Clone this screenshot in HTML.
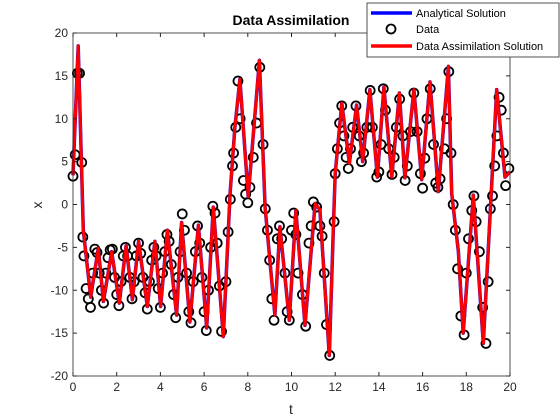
<!DOCTYPE html>
<html><head><meta charset="utf-8"><style>
body{margin:0;background:#fff}
svg{display:block;font-family:"Liberation Sans",Arial,sans-serif}
</style></head><body>
<svg id="chart" width="560" height="420" viewBox="0 0 560 420" xmlns="http://www.w3.org/2000/svg">
<rect x="73" y="33" width="437" height="343" fill="#fff"/>
<g id="marks"></g>
<rect x="73" y="33" width="437" height="343" fill="none" stroke="#262626" stroke-width="0.8"/>
<g id="ticks"></g>
<text x="291" y="25" font-size="14" font-weight="bold" text-anchor="middle" fill="#000">Data Assimilation</text>
<text x="291" y="414" font-size="14" text-anchor="middle" fill="#262626">t</text>
<text x="42" y="205" font-size="14" text-anchor="middle" fill="#262626" transform="rotate(-90 42 205)">x</text>
<g>
<rect x="367" y="3" width="192" height="54" fill="#fff" stroke="#262626" stroke-width="0.8"/>
<g><line x1="371" y1="13" x2="412" y2="13" stroke="#0000ff" stroke-width="3.5"/><text x="416" y="17" font-size="11" fill="#000">Analytical Solution</text></g>
<g><circle cx="391" cy="29" r="4.5" fill="none" stroke="#000" stroke-width="1.8"/><text x="416" y="33" font-size="11" fill="#000">Data</text></g>
<g><line x1="371" y1="46" x2="412" y2="46" stroke="#ff0000" stroke-width="3.5"/><text x="416" y="50" font-size="11" fill="#000">Data Assimilation Solution</text></g>
</g>
</svg>
<script>
const lineT=[0,0.24,0.47,0.81,1.16,1.39,1.77,2.12,2.43,2.72,3.0,3.4,3.75,4.01,4.32,4.74,4.97,5.35,5.74,6.12,6.42,6.88,7.19,7.41,7.64,8.02,8.53,8.79,9.02,9.24,9.47,9.9,10.2,10.62,11.08,11.3,11.73,11.92,12.0,12.3,12.65,12.98,13.26,13.59,13.93,14.23,14.59,14.94,15.19,15.6,15.96,16.34,16.72,17.18,17.33,17.64,17.86,18.32,18.78,19.39,19.77,20];
const lineX=[3.4,18.5,-3,-10.8,-5.1,-11.3,-5.5,-11.5,-4.8,-11.1,-4.3,-11.9,-4.3,-11.9,-3,-12.9,-2.1,-13.7,-2.4,-14.4,-0.3,-15.4,1.3,9,14.6,0.9,16.8,-0.3,-6.8,-12.9,-2.6,-13.5,-0.7,-14.1,0.1,-0.6,-17.6,-2.2,3.6,11.8,4.8,11.6,5,13.4,3.2,13.7,3.2,13,3.1,13.4,2.9,14.3,1.5,16.1,1.3,-5.5,-15,1.1,-16.2,13.4,3.2,3.8];
const dataT=[0,0.1,0.2,0.3,0.4,0.45,0.5,0.6,0.7,0.8,0.9,1.0,1.1,1.2,1.3,1.4,1.5,1.6,1.7,1.8,1.9,2.0,2.1,2.2,2.3,2.4,2.5,2.6,2.7,2.8,2.9,3.0,3.1,3.2,3.3,3.4,3.5,3.6,3.7,3.8,3.9,4.0,4.1,4.2,4.3,4.4,4.5,4.6,4.7,4.8,4.9,5.0,5.1,5.2,5.3,5.4,5.5,5.6,5.7,5.8,5.9,6.0,6.1,6.2,6.3,6.4,6.5,6.6,6.7,6.8,7.0,7.1,7.2,7.3,7.35,7.45,7.55,7.65,7.8,7.9,8.0,8.1,8.25,8.4,8.55,8.7,8.8,8.9,9.0,9.1,9.2,9.35,9.45,9.55,9.7,9.8,9.9,10.0,10.1,10.2,10.3,10.5,10.65,10.8,10.9,11.0,11.15,11.3,11.4,11.5,11.6,11.75,11.95,12.0,12.1,12.2,12.3,12.4,12.5,12.6,12.7,12.8,12.95,13.1,13.2,13.3,13.45,13.6,13.7,13.9,14.0,14.1,14.2,14.3,14.45,14.6,14.7,14.8,14.95,15.1,15.2,15.3,15.45,15.6,15.75,15.9,16.0,16.1,16.2,16.35,16.5,16.6,16.7,16.8,17.0,17.1,17.2,17.3,17.4,17.5,17.6,17.75,17.9,18.0,18.1,18.25,18.35,18.45,18.6,18.75,18.9,19.0,19.1,19.2,19.3,19.4,19.5,19.6,19.7,19.8,19.95];
const dataX=[3.3,5.8,15.3,15.3,4.9,-3.8,-6,-9.8,-11,-12,-8,-5.2,-5.6,-8,-10,-11.5,-8,-6.2,-5.3,-5.2,-8.5,-10.5,-11.8,-9,-6,-5,-6,-8.5,-11,-9,-6,-4.5,-5.7,-8.5,-10.3,-12.2,-9,-6.5,-5,-6,-9.8,-12,-8,-5.5,-3.5,-4.3,-7,-10.5,-13.2,-8.5,-5.5,-1.1,-3,-8,-12.5,-13.8,-9,-5.5,-2.5,-4.5,-8.5,-12.5,-14.7,-10,-5,-0.2,-1,-4.5,-9.5,-14.8,-9,-3.2,0.6,4.5,6,9,14.4,10,2.8,1.2,0.2,2,5.5,9.5,16,7,-0.5,-3,-6.5,-11,-13.5,-4,-2.5,-4,-8,-12.5,-13.5,-3,-1,-3.5,-8,-10.5,-14.2,-4.5,-2.5,0.3,-0.3,-2.5,-3.7,-8,-14,-17.6,-2,3.6,6.5,9.5,11.5,8,5.5,4.2,6.5,9,11.5,8,5,6,9,13.3,9,3.2,3.8,7,13.5,11,6.5,3.5,5.5,9,12.3,8,2.8,4.5,8.5,13,8.5,3.6,1.9,5.4,10,13.5,7,2.5,2,3,6.5,10,15.5,6,0,-3,-7.5,-13,-15.2,-8,-4,-0.7,1,-2,-5.5,-12,-16.2,-9,-0.5,1,4.5,8,12.5,11,6,2.2,4.2];
const xTicks=[0,2,4,6,8,10,12,14,16,18,20];
const yTicks=[-20,-15,-10,-5,0,5,10,15,20];
const X0=73,X1=510,Y0=376,Y1=33;
function sx(t){return X0+(t-0)/(20-0)*(X1-X0);}
function sy(v){return Y0-(v+20)/40*(Y0-Y1);}
const NS="http://www.w3.org/2000/svg";
const marks=document.getElementById('marks');
function pts(T,V){return T.map((t,i)=>sx(t).toFixed(1)+','+sy(V[i]).toFixed(1)).join(' ');}
const blue=document.createElementNS(NS,'polyline');


blue.setAttribute('points',pts(lineT,lineX));
blue.setAttribute('fill','none');blue.setAttribute('stroke','#0000ff');blue.setAttribute('stroke-width','3.5');blue.setAttribute('stroke-linejoin','round');
marks.appendChild(blue);
dataT.forEach((t,i)=>{
const c=document.createElementNS(NS,'circle');


c.setAttribute('cx',sx(t));c.setAttribute('cy',sy(dataX[i]));c.setAttribute('r','4.5');
c.setAttribute('fill','none');c.setAttribute('stroke','#000');c.setAttribute('stroke-width','1.8');
marks.appendChild(c);
});
const red=document.createElementNS(NS,'polyline');


red.setAttribute('points',pts(lineT,lineX));
red.setAttribute('fill','none');red.setAttribute('stroke','#ff0000');red.setAttribute('stroke-width','3');red.setAttribute('stroke-linejoin','round');
marks.appendChild(red);
const tk=document.getElementById('ticks');
xTicks.forEach(v=>{
const x=sx(v);
const g=document.createElementNS(NS,'g');


g.innerHTML=`<line x1="${x}" y1="${Y0}" x2="${x}" y2="${Y0-4}" stroke="#262626"/><line x1="${x}" y1="${Y1}" x2="${x}" y2="${Y1+4}" stroke="#262626"/><text x="${x}" y="${Y0+15}" font-size="12" text-anchor="middle" fill="#262626">${v}</text>`;
tk.appendChild(g);
});
yTicks.forEach(v=>{
const y=sy(v);
const g=document.createElementNS(NS,'g');


g.innerHTML=`<line x1="${X0}" y1="${y}" x2="${X0+4}" y2="${y}" stroke="#262626"/><line x1="${X1}" y1="${y}" x2="${X1-4}" y2="${y}" stroke="#262626"/><text x="${X0-5}" y="${y+4}" font-size="12" text-anchor="end" fill="#262626">${v}</text>`;
tk.appendChild(g);
});
</script>
</body></html>
